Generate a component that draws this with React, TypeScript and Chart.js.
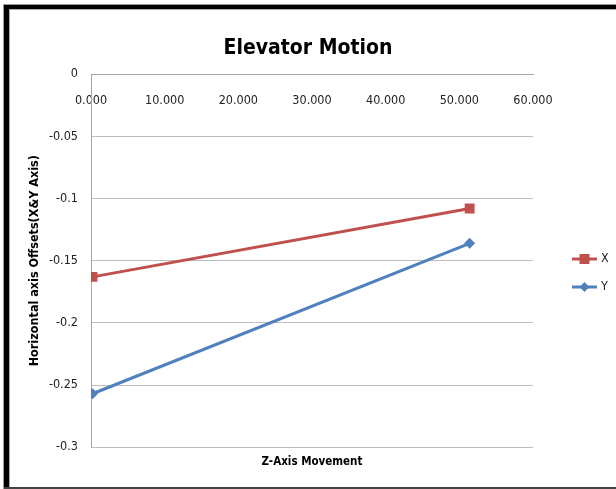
import React, { useEffect, useRef } from "react";
import { Chart, registerables } from "chart.js";

Chart.register(...registerables);

const FONT = "'DejaVu Sans Condensed', 'Liberation Sans Narrow', 'Arial Narrow', sans-serif";

const chartTitle = "Elevator Motion";
const xAxisTitle = "Z-Axis Movement";
const yAxisTitle = "Horizontal axis Offsets(X&Y Axis)";

const seriesNames = ["X", "Y"];
const zPositions = [0.2, 51.4];
const xOffsets = [-0.163, -0.108];
const yOffsets = [-0.257, -0.136];

const xMin = 0;
const xMax = 60;
const xStep = 10;
const yMin = -0.3;
const yMax = 0;
const yStep = 0.05;

const RED = "#C0504D";
const BLUE = "#4F81BD";

const framePlugin = {
  id: "frame",
  afterDraw(chart: any) {
    const ctx = chart.ctx;
    ctx.save();
    ctx.fillStyle = "#999";
    ctx.fillRect(3, 4, 1, 485);
    ctx.fillRect(3, 4, 613, 1);
    ctx.fillStyle = "#000";
    ctx.fillRect(4, 5, 5, 484);
    ctx.fillRect(4, 5, 612, 4);
    ctx.fillStyle = "#aaa";
    ctx.fillRect(9, 9, 1, 478);
    ctx.fillRect(9, 9, 607, 1);
    ctx.fillStyle = "#444";
    ctx.fillRect(4, 487, 612, 2);
    ctx.restore();
  },
};

const legendPlugin = {
  id: "sideLegend",
  afterDraw(chart: any) {
    const ctx = chart.ctx;
    const area = chart.chartArea;
    const x0 = area.right + 39;
    const y0 = 259;
    ctx.save();
    chart.data.datasets.forEach((ds: any, i: number) => {
      const y = y0 + i * 28;
      ctx.strokeStyle = ds.borderColor;
      ctx.lineWidth = 3;
      ctx.beginPath();
      ctx.moveTo(x0, y);
      ctx.lineTo(x0 + 25, y);
      ctx.stroke();
      ctx.fillStyle = ds.pointBackgroundColor;
      ctx.beginPath();
      const cx = x0 + 12.5;
      if (ds.pointStyle === "rect") {
        ctx.rect(cx - 5, y - 5, 10, 10);
      } else {
        ctx.moveTo(cx - 5, y);
        ctx.lineTo(cx, y - 5);
        ctx.lineTo(cx + 5, y);
        ctx.lineTo(cx, y + 5);
        ctx.closePath();
      }
      ctx.fill();
      ctx.fillStyle = "#222";
      ctx.font = `12.5px ${FONT}`;
      ctx.textBaseline = "middle";
      ctx.textAlign = "left";
      ctx.fillText(ds.label, x0 + 29, y);
    });
    ctx.restore();
  },
};

export default function App() {
  const ref = useRef<HTMLCanvasElement | null>(null);

  useEffect(() => {
    if (!ref.current) return;
    const chart = new Chart(ref.current, {
      type: "scatter",
      data: {
        datasets: [
          {
            label: seriesNames[0],
            data: zPositions.map((z, i) => ({ x: z, y: xOffsets[i] })),
            showLine: true,
            borderColor: RED,
            backgroundColor: RED,
            pointBackgroundColor: RED,
            pointBorderColor: RED,
            pointBorderWidth: 0,
            borderWidth: 3,
            pointStyle: "rect",
            pointRadius: 7,
          },
          {
            label: seriesNames[1],
            data: zPositions.map((z, i) => ({ x: z, y: yOffsets[i] })),
            showLine: true,
            borderColor: BLUE,
            backgroundColor: BLUE,
            pointBackgroundColor: BLUE,
            pointBorderColor: BLUE,
            pointBorderWidth: 0,
            borderWidth: 3,
            pointStyle: "rectRot",
            pointRadius: 5.5,
          },
        ],
      },
      options: {
        animation: false,
        responsive: false,
        layout: { padding: { top: 36, left: 0, right: 0, bottom: 14 } },
        plugins: {
          legend: { display: false },
          tooltip: { enabled: false },
          title: {
            display: true,
            text: chartTitle,
            color: "#000",
            font: { family: FONT, size: 21, weight: "bold" },
            padding: { top: 0, bottom: 13 },
          },
        },
        scales: {
          x: {
            type: "linear",
            position: { y: 0 } as any,
            min: xMin,
            max: xMax,
            grid: { display: false, drawTicks: false },
            border: { display: true, color: "#A6A6A6", width: 1 },
            ticks: {
              stepSize: xStep,
              padding: 19,
              color: "#222",
              font: { family: FONT, size: 12.5 },
              maxRotation: 0,
              callback: (v: any) => Number(v).toFixed(3),
            },
          },
          x2: {
            type: "linear",
            position: "bottom",
            min: xMin,
            max: xMax,
            grid: { display: false, drawTicks: false },
            border: { display: false },
            ticks: { display: false },
            title: {
              display: true,
              text: xAxisTitle,
              color: "#000",
              font: { family: FONT, size: 11.5, weight: "bold" },
              padding: { top: 8, bottom: 6 },
            },
          },
          y: {
            type: "linear",
            position: "left",
            min: yMin,
            max: yMax,
            grid: { color: "#BDBDBD", drawTicks: false, lineWidth: 1 },
            border: { display: true, color: "#A6A6A6", width: 1 },
            ticks: {
              stepSize: yStep,
              padding: 13,
              color: "#222",
              font: { family: FONT, size: 12.5 },
              callback: (v: any) => String(Number(Number(v).toFixed(2))),
            },
            title: {
              display: true,
              text: yAxisTitle,
              color: "#000",
              font: { family: FONT, size: 12.5, weight: "bold" },
              padding: { top: 27, bottom: 4 },
            },
            afterFit: (scale: any) => {
              scale.width = 91;
            },
          },
          y2: {
            type: "linear",
            position: "right",
            min: yMin,
            max: yMax,
            grid: { display: false, drawTicks: false },
            border: { display: false },
            ticks: { display: false },
            afterFit: (scale: any) => {
              scale.width = 83;
            },
          },
        },
      },
      plugins: [framePlugin, legendPlugin],
    });
    return () => chart.destroy();
  }, []);

  return (
    <div style={{ position: "absolute", left: 0, top: 0, width: 616, height: 489, background: "#fff" }}>
      <canvas ref={ref} width={616} height={489} style={{ display: "block" }} />
    </div>
  );
}
